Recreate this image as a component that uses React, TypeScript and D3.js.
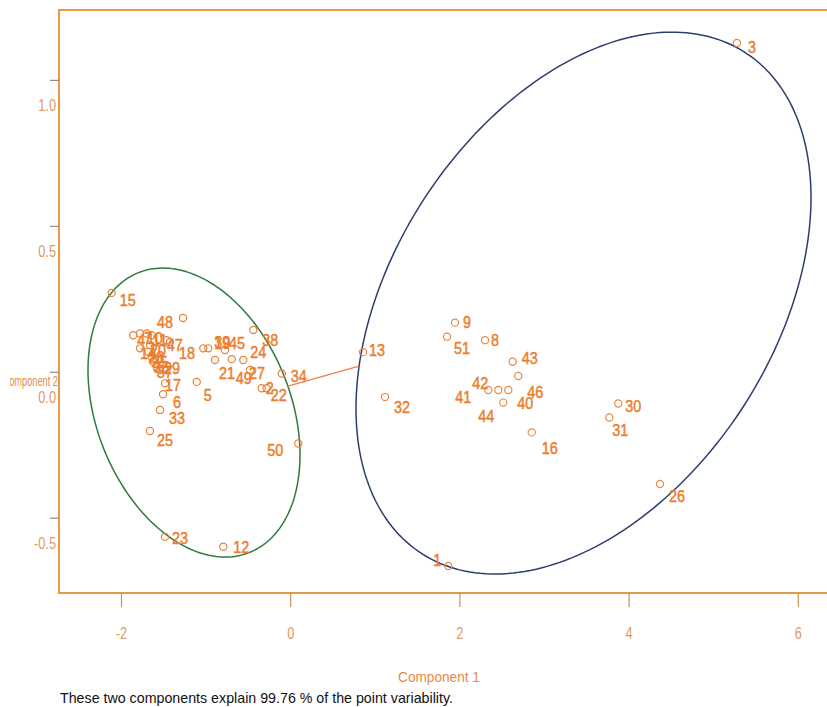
import React from "react";
import * as d3 from "d3";

// ---- data ----
const pointIds = [
  1, 2, 3, 4, 5, 6, 7, 8, 9, 10, 11, 12, 13, 14, 15, 16, 17, 18, 19, 20, 21, 22, 23, 24, 25, 26,
  27, 28, 29, 30, 31, 32, 33, 34, 35, 36, 37, 38, 39, 40, 41, 42, 43, 44, 45, 46, 47, 48, 49, 50, 51,
];
const comp1 = [
  1.863, -0.343, 5.275, -1.861, -1.111, -1.509, -1.781, 2.297, 1.942, -1.702, -1.643, -0.797, 0.855,
  -1.781, -2.116, 2.849, -1.486, -1.427, -0.974, -1.663, -0.895, -0.284, -1.486, -0.56, -1.663, 4.365,
  -0.481, -1.683, -1.545, 3.872, 3.766, 1.115, -1.545, -0.106, -1.643, -1.624, -1.584, -0.442, -1.033,
  2.572, 2.336, 2.454, 2.624, 2.513, -0.777, 2.69, -1.466, -1.273, -0.697, 0.09, 1.848,
];
const comp2 = [
  -0.664, -0.055, 1.128, 0.127, -0.033, -0.075, 0.133, 0.11, 0.17, 0.133, 0.127, -0.598, 0.069, 0.082,
  0.272, -0.206, -0.038, 0.104, 0.082, 0.093, 0.042, -0.055, -0.564, 0.042, -0.201, -0.383, 0.008,
  0.07, 0.008, -0.107, -0.155, -0.085, -0.129, -0.004, 0.053, 0.036, 0.019, 0.145, 0.082, -0.061,
  -0.061, -0.061, 0.036, -0.104, 0.076, -0.013, 0.11, 0.186, 0.045, -0.244, 0.122,
];
const cluster2Ids = [1, 3, 8, 9, 13, 16, 26, 30, 31, 32, 40, 41, 42, 43, 44, 46, 51];

// cluster ellipses: centre and spread matrix [xx, xy, yy] in component units
const ellipseCenters = [
  [-1.143, -0.138],
  [3.461, 0.237],
];
const ellipseSpread = [
  [1.57, -0.1824, 0.2451],
  [7.232, 0.972, 0.8619],
];
const ellipseColors = ["#2f7a3c", "#2d3d6e"];

const xTicks = [-2, 0, 2, 4, 6];
const yTicks = [-0.5, 0.0, 0.5, 1.0];
const yTickLabels = ["-0.5", "0.0", "0.5", "1.0"];
const xTitle = "Component 1";
const yTitle = "Component 2";
const caption = "These two components explain 99.76 % of the point variability.";

// label placement (pixel nudges from each point)
const labelNudge: Record<number, [number, number]> = {
  1: [-11, -6], 2: [8, 0], 3: [15, 4], 5: [11, 13], 6: [14, 8], 8: [10, 0], 9: [12, 0], 12: [18, 0],
  13: [14, -2], 15: [16, 7], 16: [18, 16], 17: [8, 2], 18: [17, 11], 19: [14, -5], 21: [12, 13],
  22: [12, 7], 23: [15, 1], 24: [15, -8], 25: [15, 9], 26: [17, 12], 27: [7, 3], 29: [12, -2],
  30: [15, 3], 31: [11, 13], 32: [17, 10], 33: [17, 8], 34: [17, 3], 38: [17, 10], 39: [19, -6],
  40: [17, 13], 41: [-25, 7], 42: [-18, -7], 43: [17, -4], 44: [-17, 14], 45: [12, -7], 46: [17, 16],
  48: [-18, 4], 49: [12, 19], 50: [-23, 7], 51: [15, 12],
};

const FONT = "'Liberation Sans', Arial, sans-serif";
const ORANGE = "#ec7d2c";

type NTProps = {
  x: number;
  y: number;
  anchor?: "start" | "middle" | "end";
  size: number;
  fill: string;
  sx?: number;
  heavy?: boolean;
  children: React.ReactNode;
};
function NarrowText({ x, y, anchor = "middle", size, fill, sx = 0.86, heavy, children }: NTProps) {
  return (
    <text
      transform={`translate(${x},${y}) scale(${sx},1)`}
      textAnchor={anchor}
      dominantBaseline="central"
      fontSize={size}
      fill={fill}
      stroke={heavy ? fill : "none"}
      strokeWidth={heavy ? 0.45 : 0}
    >
      {children}
    </text>
  );
}

export default function App() {
  const W = 827;
  const H = 707;
  const left = 59;
  const top = 10;
  const bottom = 593;

  const x = d3.scaleLinear().domain([-2, 6]).range([121.5, 798.3]);
  const y = d3.scaleLinear().domain([-0.5, 1.0]).range([518.2, 80.4]);

  const ellipsePath = (k: number) => {
    const [cx, cy] = ellipseCenters[k];
    const [a, b, c] = ellipseSpread[k];
    const l11 = Math.sqrt(a);
    const l21 = b / l11;
    const l22 = Math.sqrt(c - l21 * l21);
    const pts: [number, number][] = d3.range(0, 241).map((i) => {
      const t = (i / 240) * 2 * Math.PI;
      const u = Math.cos(t);
      const v = Math.sin(t);
      return [x(cx + l11 * u), y(cy + l21 * u + l22 * v)];
    });
    return d3.line()(pts) as string;
  };

  // boundary point of ellipse k in direction (dx, dy)
  const boundary = (k: number, dx: number, dy: number) => {
    const [cx, cy] = ellipseCenters[k];
    const [a, b, c] = ellipseSpread[k];
    const det = a * c - b * b;
    const q = (c * dx * dx - 2 * b * dx * dy + a * dy * dy) / det;
    const s = 1 / Math.sqrt(q);
    return [cx + dx * s, cy + dy * s];
  };
  const ddx = ellipseCenters[1][0] - ellipseCenters[0][0];
  const ddy = ellipseCenters[1][1] - ellipseCenters[0][1];
  const p0 = boundary(0, ddx, ddy);
  const p1 = boundary(1, -ddx, -ddy);

  const points = pointIds.map((id, i) => ({ id, c1: comp1[i], c2: comp2[i] }));

  return (
    <svg
      width={W}
      height={H}
      style={{ position: "absolute", left: 0, top: 0, background: "#fff" }}
      fontFamily={FONT}
    >
      <defs>
        <clipPath id="ytitle-clip">
          <rect x={10} y={0} width={60} height={H} />
        </clipPath>
      </defs>

      {/* ellipses */}
      {[0, 1].map((k) => (
        <path key={k} d={ellipsePath(k)} fill="none" stroke={ellipseColors[k]} strokeWidth={1.5} />
      ))}

      {/* connecting distance line */}
      <line
        x1={x(p0[0])}
        y1={y(p0[1])}
        x2={x(p1[0])}
        y2={y(p1[1])}
        stroke="#ee8050"
        strokeWidth={1.3}
      />

      {/* points */}
      {points.map((p) => (
        <circle
          key={"c" + p.id}
          cx={x(p.c1)}
          cy={y(p.c2)}
          r={3.6}
          fill="none"
          stroke={cluster2Ids.includes(p.id) ? "#e58a4c" : "#e7813a"}
          strokeWidth={1.2}
        />
      ))}
      {points.map((p) => {
        const nd = labelNudge[p.id] || [8, 5];
        return (
          <NarrowText key={"t" + p.id} x={x(p.c1) + nd[0]} y={y(p.c2) + nd[1]} size={16} sx={0.9} fill={ORANGE} heavy>
            {p.id}
          </NarrowText>
        );
      })}

      {/* frame */}
      <rect x={left} y={top} width={900} height={bottom - top} fill="none" stroke="#e69a45" strokeWidth={2} />

      {/* x axis */}
      {xTicks.map((t) => (
        <g key={"xt" + t}>
          <line x1={x(t)} x2={x(t)} y1={bottom} y2={bottom + 14} stroke="#c8914f" strokeWidth={1.2} />
          <NarrowText x={x(t)} y={633} size={16} sx={0.8} fill="#dd9a68">
            {t}
          </NarrowText>
        </g>
      ))}
      <NarrowText x={439} y={677} size={15} sx={0.91} fill="#e88a48">
        {xTitle}
      </NarrowText>

      {/* y axis */}
      {yTicks.map((t, i) => (
        <g key={"yt" + t}>
          <line x1={left - 9} x2={left} y1={y(t)} y2={y(t)} stroke="#9a8a7a" strokeWidth={1.2} />
          <NarrowText x={56} y={y(t) + 25} anchor="end" size={16} sx={0.8} fill="#dd9a68">
            {yTickLabels[i]}
          </NarrowText>
        </g>
      ))}
      <g clipPath="url(#ytitle-clip)">
        <NarrowText x={58} y={381} anchor="end" size={14} fill="#e88a48" sx={0.66}>
          {yTitle}
        </NarrowText>
      </g>

      {/* caption */}
      <text
        x={60}
        y={697}
        dominantBaseline="central"
        fontSize={15}
        fill="#111"
        textLength={393}
        lengthAdjust="spacingAndGlyphs"
      >
        {caption}
      </text>
    </svg>
  );
}
